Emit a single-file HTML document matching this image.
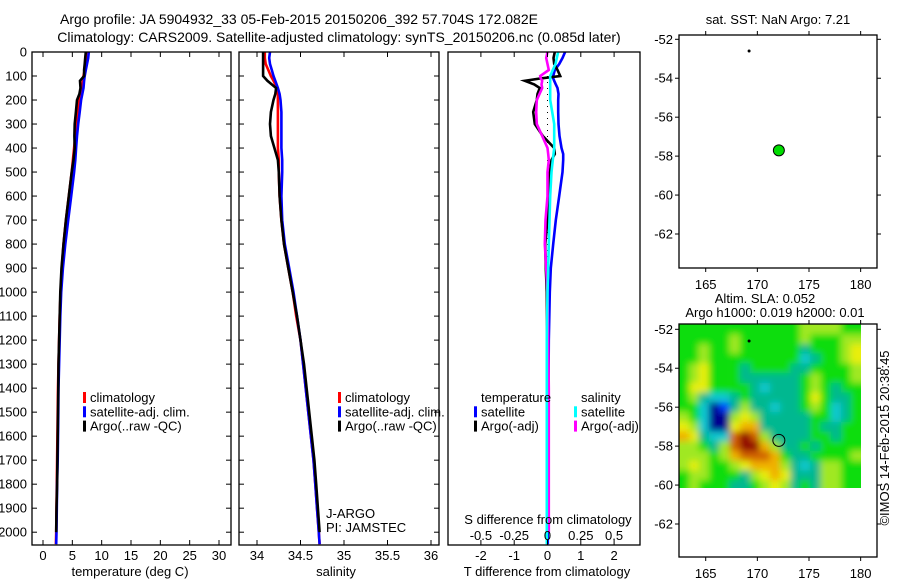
<!DOCTYPE html>
<html><head><meta charset="utf-8">
<style>
html,body{margin:0;padding:0;background:#fff;}
svg{display:block;font-family:"Liberation Sans",sans-serif;}
text{fill:#000;}
</style></head>
<body>
<svg id="fig" width="900" height="580" viewBox="0 0 900 580" xmlns="http://www.w3.org/2000/svg">
<defs>
<filter id="blur" x="0" y="0" width="1" height="1"><feGaussianBlur stdDeviation="3.5"/></filter>
<clipPath id="slaclip"><rect x="679" y="324" width="182" height="164"/></clipPath>
</defs>
<text x="60" y="24" font-size="14">Argo profile: JA 5904932_33 05-Feb-2015 20150206_392 57.704S 172.082E</text>
<text x="339" y="42" font-size="14" text-anchor="middle">Climatology: CARS2009. Satellite-adjusted climatology: synTS_20150206.nc (0.085d later)</text>
<g id="p1"></g>
<g id="p2"></g>
<g id="p3"></g>
<g id="m1"></g>
<g id="m2"><g id="hm" clip-path="url(#slaclip)"><g id="hmb" filter="url(#blur)"></g></g></g>
<text transform="translate(889,438) rotate(-90)" font-size="13" text-anchor="middle">©IMOS 14-Feb-2015 20:38:45</text>
</svg>
<script>
// ---- data ----
const depths = [0,25,50,75,100,120,150,175,200,250,300,350,400,450,500,600,700,800,900,1000,1100,1200,1300,1400,1500,1600,1700,1800,1900,2000,2050];
const tClim = [7.4,7.3,7.2,7.1,6.9,6.8,6.6,6.4,6.2,5.9,5.7,5.5,5.3,5.1,4.9,4.4,3.9,3.5,3.2,3.0,2.85,2.75,2.65,2.55,2.5,2.45,2.4,2.35,2.3,2.25,2.2];
const tSat = [7.8,7.7,7.5,7.3,7.1,7.0,6.9,6.7,6.5,6.25,6.0,5.8,5.65,5.5,5.3,4.8,4.3,3.8,3.4,3.1,2.95,2.85,2.75,2.65,2.6,2.55,2.5,2.4,2.35,2.3,2.25];
const tArgo = [7.3,7.2,7.1,7.0,7.0,6.3,6.4,6.2,5.8,5.6,5.4,5.35,5.4,5.2,4.9,4.4,3.9,3.5,3.15,2.95,2.85,2.75,2.65,2.6,2.55,2.5,2.45,2.4,2.3,2.25];
const sClim = [34.09,34.09,34.1,34.13,34.16,34.19,34.23,34.24,34.24,34.24,34.24,34.24,34.24,34.25,34.25,34.26,34.28,34.31,34.36,34.41,34.45,34.5,34.53,34.56,34.59,34.62,34.65,34.67,34.69,34.71,34.72];
const sSat = [34.15,34.14,34.15,34.17,34.19,34.21,34.24,34.26,34.27,34.28,34.28,34.28,34.28,34.29,34.29,34.28,34.29,34.32,34.37,34.42,34.46,34.5,34.53,34.56,34.59,34.62,34.65,34.67,34.69,34.71,34.72];
const sArgo = [34.07,34.07,34.07,34.07,34.07,34.12,34.22,34.21,34.19,34.16,34.15,34.16,34.2,34.24,34.25,34.26,34.28,34.31,34.36,34.41,34.46,34.5,34.54,34.57,34.6,34.63,34.66,34.68,34.7,34.72];
const dDepths = [0,25,50,75,100,110,120,135,150,175,200,250,300,350,400,425,450,500,600,700,800,900,1000,1200,1400,1600,1800,2000,2050];
const dTSat = [0.53,0.45,0.35,0.22,0.17,0.17,0.2,0.25,0.3,0.33,0.32,0.32,0.33,0.36,0.42,0.47,0.47,0.45,0.35,0.25,0.17,0.1,0.07,0.04,0.03,0.02,0.01,0.01,0.01];
const dTArgo = [0.22,0.18,0.2,0.3,0.38,-0.2,-0.68,-0.4,-0.23,-0.3,-0.32,-0.43,-0.38,-0.14,0.2,0.22,0.12,0.07,0.02,0,-0.07,-0.05,-0.02,-0.01,0,0,0,0];
const dSArgo = [0.0,-0.01,0.0,0.01,-0.055,-0.05,-0.04,-0.045,-0.04,-0.06,-0.08,-0.085,-0.08,-0.04,0,0.005,0.01,0.0,0.0,-0.015,-0.02,-0.01,0.0,0.005,0.01,0.01,0.01,0.01];
const dSSat = [0.08,0.07,0.06,0.04,0.02,0.02,0.02,0.02,0.02,0.02,0.02,0.035,0.05,0.05,0.05,0.045,0.04,0.03,0.02,0.015,0.01,0.005,0.0,-0.005,-0.005,-0.005,-0.005,-0.005,-0.005];
const depthTicks = [0,100,200,300,400,500,600,700,800,900,1000,1100,1200,1300,1400,1500,1600,1700,1800,1900,2000];
const tTicks = [0,5,10,15,20,25,30];
const sTicks = [34,34.5,35,35.5,36];
const sTickLabels = ["34","34.5","35","35.5","36"];
const dTTicks = [-2,-1,0,1,2];
const dSTicks = [-0.5,-0.25,0,0.25,0.5];
const dSTickLabels = ["-0.5","-0.25","0","0.25","0.5"];
const lonTicks = [165,170,175,180];
const latTicks = [-52,-54,-56,-58,-60,-62];
const argoLon = 172.082, argoLat = -57.704;
const otherLon = 169.2, otherLat = -52.6;
const slaLons = [162.9,163.9,164.8,165.8,166.8,167.8,168.8,169.8,170.7,171.7,172.7,173.7,174.6,175.6,176.6,177.6,178.6,179.5];
const slaLats = [-52,-52.5,-53,-53.5,-54,-54.5,-55,-55.5,-56,-56.5,-57,-57.5,-58,-58.5,-59,-59.5,-60];
const slaGrid = [
[0,0,0,0,0,0,0,0,0,0,0,0,1,1,1,1,0,0],
[0,0,0,0,0,1,0,0,0,0,0,0,1,0,0,0,1,1],
[0,0,1,0,0,1,0,0,0,0,0,0,-1,0,0,0,1,2],
[0,0,1,0,0,0,0,0,0,0,0,0,-2,-1,0,0,1,2],
[0,1,2,0,0,0,-1,0,0,0,0,-1,-1,0,0,0,0,1],
[0,1,2,0,0,0,-1,-1,-1,-1,-1,-1,0,1,0,0,0,1],
[0,2,2,0,0,0,0,-1,-2,-1,-1,-1,0,1,0,-1,0,0],
[0,1,-1,-2,-2,-1,0,-1,-1,-1,-1,-1,0,2,0,-1,-1,0],
[0,0,-2,-4,-3,-1,1,-1,-1,-2,-1,-1,0,1,0,-2,-1,0],
[1,0,-2,-4,-4,1,2,1,-1,-1,-1,-1,-1,0,0,-2,-1,0],
[2,1,-2,-4,-4,2,3,3,-1,-1,-1,-1,-1,0,-1,-1,0,0],
[3,2,-1,-2,-2,4,5,4,1,-1,-1,-1,-1,0,0,-1,0,0],
[1,1,0,-1,1,4,5,5,3,1,-1,-1,0,-1,0,0,0,0],
[1,1,1,0,1,3,4,4,4,3,0,-1,-1,0,0,0,0,1],
[1,2,1,0,0,1,2,3,3,3,1,-1,-2,-1,1,1,0,0],
[0,1,1,0,0,0,-1,1,2,3,2,-1,-1,-1,1,1,0,0],
[0,1,0,0,0,-1,-1,0,1,2,1,-1,0,-1,1,1,0,0]];

// ---- helpers ----
const NS="http://www.w3.org/2000/svg";
function mk(parent, tag, attrs, txt){const e=document.createElementNS(NS,tag);for(const k in attrs)e.setAttribute(k,attrs[k]);if(txt!==undefined)e.textContent=txt;parent.appendChild(e);return e;}
const yD = d => 52 + d*0.2401;
const xT = t => 43 + t*5.867;
const xS = s => 257 + (s-34)*87;
const xDT = v => 547.5 + v*33.3;
const xDS = v => 547.5 + v*133.2;
const xLon = l => 705.7 + (l-165)*10.33;
const yLat1 = la => 39.3 + (-52-la)*19.47;
const yLat2 = la => 329.3 + (-52-la)*19.47;

function frame(g, x0, x1, y0, y1, nm){
  const r=mk(g,'rect',{x:x0,y:y0,width:x1-x0,height:y1-y0,fill:'none',stroke:'#000','stroke-width':1.3});
  
  
}
function depthAxis(g, x0, x1, labels){
  depthTicks.forEach(d=>{
    const y=yD(d);
    mk(g,'line',{x1:x0,x2:x0+5,y1:y,y2:y,stroke:'#000'});
    mk(g,'line',{x1:x1,x2:x1-5,y1:y,y2:y,stroke:'#000'});
    if(labels){const t=mk(g,'text',{x:27,y:y+4.5,'font-size':13,'text-anchor':'end'},String(d));
      
      }
  });
}
function line(g, xs, ys, xf, color, nm, w){
  const n=Math.min(xs.length, ys.length);
  let p=[];for(let i=0;i<n;i++)p.push(xf(xs[i]).toFixed(1)+','+yD(ys[i]).toFixed(1));
  const e=mk(g,'polyline',{points:p.join(' '),fill:'none',stroke:color,'stroke-width':w||2.6,'stroke-linejoin':'miter'});
  
  
}
function legend(g, x, y, items){
  items.forEach((it,i)=>{
    const yy=y+i*14.3;
    if(it.c){const b=mk(g,'rect',{x:x,y:yy-10,width:3,height:11,fill:it.c});
      
      }
    const t=mk(g,'text',{x:x+7,y:yy,'font-size':13},it.t);
    
    
  });
}

// ---- panel 1 temperature ----
const p1=document.getElementById('p1');
line(p1,tClim,depths,xT,'#ff0000','climatology-temp-line');
line(p1,tSat,depths,xT,'#0000ff','satellite-temp-line');
line(p1,tArgo,depths,xT,'#000000','argo-temp-line');
frame(p1,32,231,52,545,'temperature-axes');
depthAxis(p1,32,231,true);
tTicks.forEach(t=>{const x=xT(t);mk(p1,'line',{x1:x,x2:x,y1:52,y2:57,stroke:'#000'});mk(p1,'line',{x1:x,x2:x,y1:545,y2:540,stroke:'#000'});
  const e=mk(p1,'text',{x:x,y:560,'font-size':13,'text-anchor':'middle'},String(t));
  
  });
mk(p1,'text',{x:130,y:576,'font-size':13,'text-anchor':'middle',},'temperature (deg C)');
legend(p1,83,402,[{c:'#ff0000',t:'climatology'},{c:'#0000ff',t:'satellite-adj. clim.'},{c:'#000',t:'Argo(..raw -QC)'}]);

// ---- panel 2 salinity ----
const p2=document.getElementById('p2');
line(p2,sClim,depths,xS,'#ff0000','climatology-salinity-line');
line(p2,sSat,depths,xS,'#0000ff','satellite-salinity-line');
line(p2,sArgo,depths,xS,'#000000','argo-salinity-line');
frame(p2,239,439,52,545,'salinity-axes');
depthAxis(p2,239,439,false);
sTicks.forEach((s,i)=>{const x=xS(s);mk(p2,'line',{x1:x,x2:x,y1:52,y2:57,stroke:'#000'});mk(p2,'line',{x1:x,x2:x,y1:545,y2:540,stroke:'#000'});
  const e=mk(p2,'text',{x:x,y:560,'font-size':13,'text-anchor':'middle'},sTickLabels[i]);
  
  });
mk(p2,'text',{x:336,y:576,'font-size':13,'text-anchor':'middle',},'salinity');
legend(p2,338,402,[{c:'#ff0000',t:'climatology'},{c:'#0000ff',t:'satellite-adj. clim.'},{c:'#000',t:'Argo(..raw -QC)'}]);
mk(p2,'text',{x:326,y:518,'font-size':13,},'J-ARGO');
mk(p2,'text',{x:326,y:532,'font-size':13,},'PI: JAMSTEC');

// ---- panel 3 differences ----
const p3=document.getElementById('p3');
mk(p3,'line',{x1:547.5,x2:547.5,y1:yD(100),y2:yD(1000),stroke:'#000','stroke-width':1,'stroke-dasharray':'1 5',});
line(p3,dTSat,dDepths,xDT,'#0000ff','satellite-temp-diff-line');
line(p3,dTArgo,dDepths,xDT,'#000000','argo-temp-diff-line');
line(p3,dSArgo,dDepths,xDS,'#ff00ff','argo-salinity-diff-line');
line(p3,dSSat,dDepths,xDS,'#00ffff','satellite-salinity-diff-line');
frame(p3,448,640,52,545,'difference-axes');
dTTicks.forEach(v=>{const x=xDT(v);mk(p3,'line',{x1:x,x2:x,y1:52,y2:57,stroke:'#000'});mk(p3,'line',{x1:x,x2:x,y1:545,y2:540,stroke:'#000'});
  const e=mk(p3,'text',{x:x,y:560,'font-size':13,'text-anchor':'middle'},String(v));
  
  });
dSTicks.forEach((v,i)=>{const x=xDS(v);
  const e=mk(p3,'text',{x:x,y:540,'font-size':13,'text-anchor':'middle'},dSTickLabels[i]);
  
  });
mk(p3,'text',{x:548,y:524,'font-size':13,'text-anchor':'middle',},'S difference from climatology');
mk(p3,'text',{x:547,y:576,'font-size':13,'text-anchor':'middle',},'T difference from climatology');
legend(p3,474,402,[{c:null,t:'temperature'},{c:'#0000ff',t:'satellite'},{c:'#000',t:'Argo(-adj)'}]);
legend(p3,574,402,[{c:null,t:'salinity'},{c:'#00ffff',t:'satellite'},{c:'#ff00ff',t:'Argo(-adj)'}]);

// ---- maps ----
function mapAxes(g, y0, y1, yl, nm){
  frame(g,679,877,y0,y1,nm);
  lonTicks.forEach(l=>{const x=xLon(l);mk(g,'line',{x1:x,x2:x,y1:y0,y2:y0-4,stroke:'#000'});mk(g,'line',{x1:x,x2:x,y1:y1,y2:y1+4,stroke:'#000'});
    const e=mk(g,'text',{x:x,y:y1+21,'font-size':13,'text-anchor':'middle'},String(l));
    
    });
  latTicks.forEach(la=>{const y=yl(la);mk(g,'line',{x1:679,x2:675,y1:y,y2:y,stroke:'#000'});mk(g,'line',{x1:877,x2:881,y1:y,y2:y,stroke:'#000'});
    const e=mk(g,'text',{x:673,y:y+4.5,'font-size':13,'text-anchor':'end'},String(la));
    
    });
}
const m1=document.getElementById('m1');
mk(m1,'text',{x:778,y:24,'font-size':13,'text-anchor':'middle',},'sat. SST: NaN Argo: 7.21');
mapAxes(m1,35,268,yLat1,'sst-map-axes');
mk(m1,'circle',{cx:xLon(otherLon),cy:yLat1(otherLat),r:1.5,fill:'#000',});
mk(m1,'circle',{cx:xLon(argoLon),cy:yLat1(argoLat),r:5.5,fill:'#00dd00',stroke:'#000','stroke-width':1,});

const m2=document.getElementById('m2');
const hmb=document.getElementById('hmb');
mk(m2,'text',{x:765,y:303,'font-size':13,'text-anchor':'middle',},'Altim. SLA: 0.052');
mk(m2,'text',{x:775,y:317,'font-size':13,'text-anchor':'middle',},'Argo h1000: 0.019 h2000: 0.01');
const cmap={'-4':'#000090','-3':'#0040ff','-2':'#10c8d0','-1':'#00b890','0':'#10dd10','1':'#a0e820','2':'#e8ee10','3':'#f0b000','4':'#d06000','5':'#900000'};
const dl=(180-162.4)/slaLons.length;
slaGrid.forEach((row,r)=>{row.forEach((v,c)=>{
  const lo=slaLons[c], la=slaLats[r];
  // extend edge cells so blur doesn't fade at borders
  let xa=xLon(lo-dl/2), xb=xLon(lo+dl/2);
  let ya=yLat2(la+0.25), yb=yLat2(la-0.25);
  if(c===0) xa-=10; if(c===row.length-1) xb+=10;
  if(r===0) ya-=10; if(r===slaGrid.length-1) yb+=10;
  const cell=mk(hmb,'rect',{x:xa.toFixed(1),y:ya.toFixed(1),width:(xb-xa+0.6).toFixed(1),height:(yb-ya+0.6).toFixed(1),fill:cmap[String(v)]});
  
  
});});
mapAxes(m2,324,557,yLat2,'sla-map-axes');
mk(m2,'circle',{cx:xLon(otherLon),cy:yLat2(otherLat),r:1.5,fill:'#000',});
mk(m2,'circle',{cx:xLon(argoLon),cy:yLat2(argoLat),r:6,fill:'none',stroke:'#000','stroke-width':1,});
</script>
</body></html>
